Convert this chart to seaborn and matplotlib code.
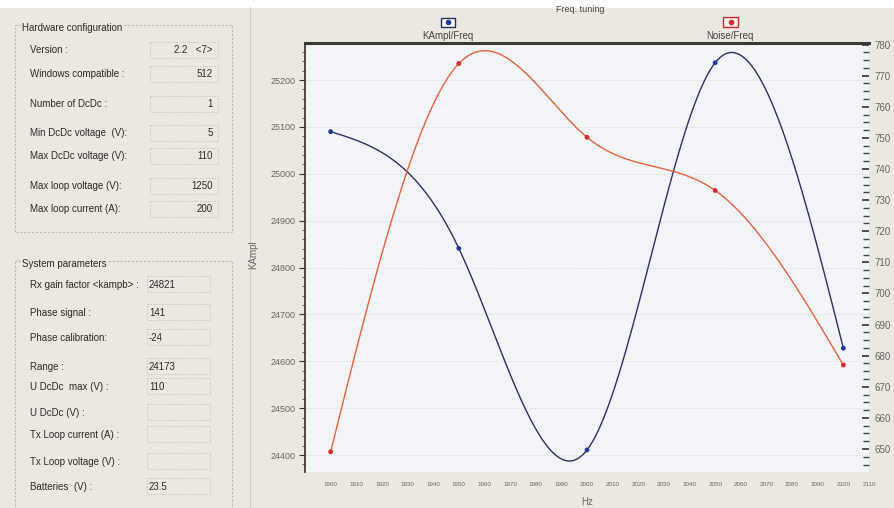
import numpy as np
import pandas as pd
import matplotlib
matplotlib.use("Agg")
import matplotlib.pyplot as plt
import seaborn as sns
from matplotlib.patches import Rectangle
from matplotlib.ticker import MultipleLocator

# ---------------- data ----------------
freq = [1900, 1950, 2000, 2050, 2100]
kampl = [25090, 24841, 24411, 25237, 24628]
noise = [649.1, 773.9, 750.2, 733.1, 677.0]
x_ticks = list(range(1900, 2111, 10))
left_ticks = [24400, 24500, 24600, 24700, 24800, 24900, 25000, 25100, 25200]
right_ticks = [650, 660, 670, 680, 690, 700, 710, 720, 730, 740, 750, 760, 770, 780]

hw_labels = ["Version :", "Windows compatible :", "Number of DcDc :",
             "Min DcDc voltage  (V):", "Max DcDc voltage (V):",
             "Max loop voltage (V):", "Max loop current (A):"]
hw_values = ["2.2   <7>", "512", "1", "5", "110", "1250", "200"]
sp_labels = ["Rx gain factor <kampb> :", "Phase signal :", "Phase calibration:",
             "Range :", "U DcDc  max (V) :", "U DcDc (V) :",
             "Tx Loop current (A) :", "Tx Loop voltage (V) :", "Batteries  (V) :"]
sp_values = ["24821", "141", "-24", "24173", "110", "", "", "", "23.5"]


def natural_spline(x, y, xs):
    x = np.asarray(x, float); y = np.asarray(y, float)
    n = len(x)
    h = np.diff(x)
    A = np.zeros((n, n)); b = np.zeros(n)
    A[0, 0] = 1; A[-1, -1] = 1
    for i in range(1, n - 1):
        A[i, i - 1] = h[i - 1]; A[i, i] = 2 * (h[i - 1] + h[i]); A[i, i + 1] = h[i]
        b[i] = 6 * ((y[i + 1] - y[i]) / h[i] - (y[i] - y[i - 1]) / h[i - 1])
    M = np.linalg.solve(A, b)
    out = np.empty_like(xs)
    for k, xv in enumerate(xs):
        i = min(np.searchsorted(x, xv, side="right") - 1, n - 2)
        i = max(i, 0)
        t1 = x[i + 1] - xv; t0 = xv - x[i]
        out[k] = (M[i] * t1 ** 3 + M[i + 1] * t0 ** 3) / (6 * h[i]) \
            + (y[i] / h[i] - M[i] * h[i] / 6) * t1 + (y[i + 1] / h[i] - M[i + 1] * h[i] / 6) * t0
    return out


sns.set_style("white")
plt.rcParams["font.family"] = ["Liberation Sans", "DejaVu Sans"]

W, H = 894, 508
fig = plt.figure(figsize=(W / 100, H / 100), dpi=100)

BEIGE = "#ebe8df"
TXT = "#2a2a2a"

# background drawing layer in pixel coordinates
bg = fig.add_axes([0, 0, 1, 1])
bg.set_xlim(0, W); bg.set_ylim(H, 0); bg.axis("off")
bg.add_patch(Rectangle((0, 0), W, H, color=BEIGE, zorder=0))
bg.add_patch(Rectangle((0, 0), W, 7, color="white", zorder=1))
bg.plot([250, 250], [7, H], color="#d2cec4", lw=0.8)

# group boxes
for (x0, y0, w, h, title) in [(15, 25, 217, 207, "Hardware configuration"),
                              (15, 261, 217, 260, "System parameters")]:
    bg.add_patch(Rectangle((x0, y0), w, h, fill=False, edgecolor="#bdb9ae",
                           lw=0.8, ls=(0, (2, 1.5))))
    bg.text(x0 + 7, y0 + 3, title, fontsize=7, color=TXT, va="center", ha="left",
            bbox=dict(facecolor=BEIGE, edgecolor="none", pad=1))

hw_y = [50, 74, 104, 133, 156, 186, 209]
for lab, val, y in zip(hw_labels, hw_values, hw_y):
    bg.text(30, y, lab, fontsize=7, color=TXT, va="center", ha="left")
    bg.add_patch(Rectangle((150, y - 8), 68, 16, fill=False, edgecolor="#cbc7bc",
                           lw=0.7, ls=(0, (1.5, 1.5))))
    bg.text(213, y, val, fontsize=7, color=TXT, va="center", ha="right")

sp_y = [285, 313, 338, 367, 387, 413, 435, 462, 487]
for lab, val, y in zip(sp_labels, sp_values, sp_y):
    bg.text(30, y, lab, fontsize=7, color=TXT, va="center", ha="left")
    bg.add_patch(Rectangle((147, y - 9), 63, 16, fill=False, edgecolor="#cbc7bc",
                           lw=0.7, ls=(0, (1.5, 1.5))))
    bg.text(149, y, val, fontsize=7, color=TXT, va="center", ha="left")

# chart title and legend
bg.text(580, 10, "Freq. tuning", fontsize=6.5, color="#444444", ha="center", va="center")
bg.add_patch(Rectangle((441, 17.5), 14, 9, facecolor="white", edgecolor="#1f2a66", lw=1))
bg.plot([448], [22], "o", color="#1f3a99", ms=3)
bg.text(448, 36, "KAmpl/Freq", fontsize=7, color="#444444", ha="center", va="center")
bg.add_patch(Rectangle((723, 17), 15, 10, facecolor="#fbeeee", edgecolor="#d42a2a", lw=1))
bg.plot([730.5], [22], "o", color="#d42a2a", ms=3)
bg.text(730, 36, "Noise/Freq", fontsize=7, color="#444444", ha="center", va="center")

# main plot
L, R, T, B = 305, 869, 43, 472
ax = fig.add_axes([L / W, 1 - B / H, (R - L) / W, (B - T) / H])
ax.set_facecolor("#f3f4f8")
ax2 = ax.twinx()
ax2.patch.set_visible(False)

xs = np.linspace(freq[0], freq[-1], 400)
blue_curve = natural_spline(freq, kampl, xs)
red_curve = natural_spline(freq, noise, xs)

sns.lineplot(x=xs, y=blue_curve, ax=ax, color="#2b3060", lw=1.0, zorder=3)
sns.scatterplot(x=freq, y=kampl, ax=ax, color="#1f3a99", s=12, edgecolor="none", zorder=4)
sns.lineplot(x=xs, y=red_curve, ax=ax2, color="#e8603c", lw=1.0, zorder=3)
sns.scatterplot(x=freq, y=noise, ax=ax2, color="#d42a2a", s=12, edgecolor="none", zorder=4)

ax.set_xlim(1890, 2110)
ax.set_ylim(24364, 25279)
ax2.set_ylim(642.6, 780.5)

ax.set_xticks(x_ticks)
ax.set_xticklabels([str(v) for v in x_ticks], fontsize=4.5, color="#666666")
ax.xaxis.set_minor_locator(MultipleLocator(2))
ax.set_yticks(left_ticks)
ax.set_yticklabels([str(v) for v in left_ticks], fontsize=6.5, color="#666666")
ax.yaxis.set_minor_locator(MultipleLocator(20))
ax2.set_yticks(right_ticks)
ax2.set_yticklabels([str(v) for v in right_ticks], fontsize=7, color="#666666")
ax2.yaxis.set_minor_locator(MultipleLocator(2.5))

ax.tick_params(axis="x", which="major", direction="out", length=4, width=0.8,
               color="#333333", pad=3)
ax.tick_params(axis="x", which="minor", direction="out", length=3, width=0.6, color="#555555")
ax.tick_params(axis="y", which="major", direction="out", length=4, width=0.8,
               color="#333333", pad=3)
ax.tick_params(axis="y", which="minor", direction="out", length=2.5, width=0.6, color="#444444")
ax2.tick_params(axis="y", which="major", direction="in", length=5, width=1.2,
                color="#333333", pad=4)
ax2.tick_params(axis="y", which="minor", direction="in", length=4, width=1.0, color="#444444")

ax.yaxis.grid(True, color="#d6d8de", ls=":", lw=0.7)
ax.set_axisbelow(True)

for a in (ax, ax2):
    a.spines["bottom"].set_visible(False)
    a.spines["right"].set_visible(False)
    a.spines["left"].set_visible(False)
    a.spines["top"].set_visible(False)
ax.spines["left"].set_visible(True)
ax.spines["left"].set_color("#3a2a2a")
ax.spines["left"].set_linewidth(1.2)
ax.spines["top"].set_visible(True)
ax.spines["top"].set_color("#3a3a30")
ax.spines["top"].set_linewidth(2.2)

ax.set_xlabel("Hz", fontsize=7, color="#666666")
ax.xaxis.set_label_coords((587 - L) / (R - L), -(497 - B) / (B - T))
ax.set_ylabel("KAmpl", fontsize=7, color="#666666")
ax.yaxis.set_label_coords(-(L - 258) / (R - L), (B - 255) / (B - T))
ax2.set_ylabel("")

fig.savefig("out.png", dpi=100)
